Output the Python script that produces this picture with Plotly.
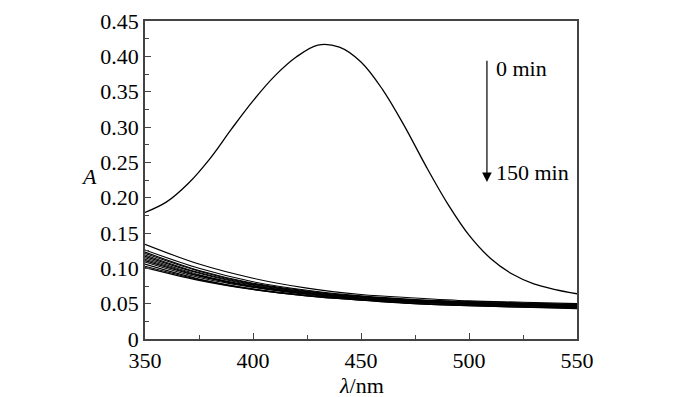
import plotly.graph_objects as go

# Wavelength grid for the 0 min spectrum
wl_initial = [350, 360, 370, 380, 390, 400, 410, 420, 430, 440, 450,
              460, 470, 480, 490, 500, 510, 520, 530, 540, 550]
abs_initial = [0.179, 0.194, 0.220, 0.255, 0.297, 0.337, 0.372, 0.399, 0.416,
               0.413, 0.392, 0.353, 0.302, 0.245, 0.192, 0.147, 0.114,
               0.092, 0.078, 0.070, 0.064]

# Wavelength grid for the later spectra
wl_later = [350, 375, 400, 425, 450, 475, 500, 525, 550]
later_spectra = [
    [0.134, 0.106, 0.086, 0.072, 0.063, 0.058, 0.054, 0.052, 0.050],
    [0.126, 0.100, 0.081, 0.069, 0.061, 0.056, 0.053, 0.051, 0.049],
    [0.123, 0.097, 0.079, 0.068, 0.060, 0.055, 0.052, 0.050, 0.048],
    [0.121, 0.096, 0.078, 0.067, 0.060, 0.055, 0.052, 0.050, 0.048],
    [0.119, 0.094, 0.077, 0.066, 0.059, 0.054, 0.051, 0.049, 0.047],
    [0.117, 0.093, 0.076, 0.065, 0.058, 0.054, 0.051, 0.049, 0.047],
    [0.115, 0.091, 0.075, 0.065, 0.058, 0.053, 0.050, 0.048, 0.046],
    [0.113, 0.090, 0.074, 0.064, 0.057, 0.053, 0.050, 0.048, 0.046],
    [0.111, 0.089, 0.074, 0.064, 0.057, 0.052, 0.049, 0.047, 0.045],
    [0.109, 0.087, 0.073, 0.063, 0.056, 0.052, 0.049, 0.047, 0.045],
    [0.106, 0.085, 0.071, 0.062, 0.056, 0.051, 0.048, 0.046, 0.044],
    [0.103, 0.084, 0.070, 0.061, 0.055, 0.050, 0.047, 0.045, 0.044],
    [0.101, 0.083, 0.070, 0.061, 0.055, 0.050, 0.047, 0.045, 0.043],
]

x_tickvals = [350, 400, 450, 500, 550]
x_ticktext = ["350", "400", "450", "500", "550"]
y_tickvals = [0, 0.05, 0.10, 0.15, 0.20, 0.25, 0.30, 0.35, 0.40, 0.45]
y_ticktext = ["0", "0.05", "0.10", "0.15", "0.20", "0.25", "0.30", "0.35", "0.40", "0.45"]

FONT = "Liberation Serif"
AXC = "#444444"
FS = 22

fig = go.Figure()
fig.add_trace(go.Scatter(x=wl_initial, y=abs_initial, mode="lines",
                         line=dict(color="black", width=1.3, shape="spline", smoothing=1.0),
                         showlegend=False, hoverinfo="skip"))
for spec in later_spectra:
    fig.add_trace(go.Scatter(x=wl_later, y=spec, mode="lines",
                             line=dict(color="black", width=1.1, shape="spline"),
                             showlegend=False, hoverinfo="skip"))

fig.update_xaxes(range=[350, 550], tickvals=x_tickvals, ticktext=x_ticktext,
                 ticks="inside", ticklen=6, tickwidth=1.2, tickcolor=AXC,
                 minor=dict(ticks="inside", dtick=25, ticklen=4, tickwidth=1.2, tickcolor=AXC),
                 showline=True, linecolor=AXC, linewidth=1.5, mirror=True,
                 showgrid=False, zeroline=False, automargin=False,
                 tickfont=dict(family=FONT, size=FS, color="black"),
                 ticklabelstandoff=1)
fig.update_yaxes(range=[0, 0.45], tickvals=y_tickvals, ticktext=y_ticktext,
                 ticks="inside", ticklen=6, tickwidth=1.2, tickcolor=AXC,
                 minor=dict(ticks="inside", dtick=0.025, ticklen=4, tickwidth=1.2, tickcolor=AXC),
                 showline=True, linecolor=AXC, linewidth=1.5, mirror=True,
                 showgrid=False, zeroline=False, automargin=False,
                 tickfont=dict(family=FONT, size=FS, color="black"),
                 ticklabelstandoff=0)

fig.add_annotation(xref="x", yref="y", x=508.3, y=0.222, ax=508.3, ay=0.396,
                   axref="x", ayref="y", showarrow=True, arrowhead=2,
                   arrowsize=1.6, arrowwidth=1.2, arrowcolor="black", text="")
fig.add_annotation(xref="x", yref="y", x=511.5, y=0.383, text="0 min",
                   showarrow=False, xanchor="left", yanchor="middle",
                   font=dict(family=FONT, size=FS, color="black"))
fig.add_annotation(xref="x", yref="y", x=511.5, y=0.235, text="150 min",
                   showarrow=False, xanchor="left", yanchor="middle",
                   font=dict(family=FONT, size=FS, color="black"))
fig.add_annotation(xref="paper", yref="paper", x=-0.13, y=0.51, text="<i>A</i>",
                   showarrow=False, xanchor="center", yanchor="middle",
                   font=dict(family=FONT, size=FS, color="black"))
fig.add_annotation(xref="paper", yref="paper", x=0.5, y=-0.145, text="<i>λ</i>/nm",
                   showarrow=False, xanchor="center", yanchor="middle",
                   font=dict(family=FONT, size=FS, color="black"))

# page body has an 8px margin, so the figure is sized to 692x389
fig.update_layout(width=692, height=389,
                  margin=dict(l=137, r=123, t=13, b=58, autoexpand=False),
                  paper_bgcolor="white", plot_bgcolor="white")

fig.write_html("out.html")
